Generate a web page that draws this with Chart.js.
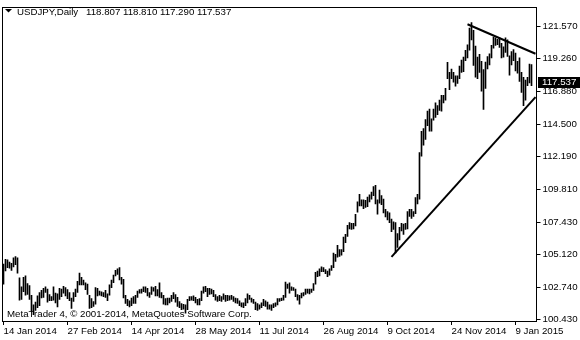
<!DOCTYPE html>
<html>
<head>
<meta charset="utf-8">
<script src="https://cdn.jsdelivr.net/npm/chart.js@4"></script>
<style>
  html, body { margin: 0; padding: 0; background: #fff; }
  #wrap { width: 580px; height: 340px; }
</style>
</head>
<body>
<div id="wrap"><canvas id="chart" width="580" height="340"></canvas></div>
<script>
// USDJPY daily bars, 14 Jan 2014 .. 21 Jan 2015 (high / low per bar)
const highs = [
  104.40,104.75,104.70,104.55,104.45,104.85,104.95,104.85,103.40,102.75,
  103.45,103.55,103.00,102.85,102.15,101.45,101.65,102.10,102.35,102.50,
  102.65,102.75,102.60,102.20,102.05,102.75,102.30,102.25,102.65,102.60,
  102.80,102.70,102.55,102.35,101.95,102.35,102.60,103.15,103.75,103.45,
  103.25,103.05,102.95,102.15,101.90,101.70,102.70,102.65,102.45,102.40,
  102.35,102.50,102.25,102.90,103.25,103.60,103.95,104.05,104.15,103.45,
  103.30,102.15,101.85,101.75,101.95,102.05,102.15,102.45,102.55,102.60,
  102.75,102.75,102.65,102.35,102.75,102.70,102.80,102.55,103.05,102.35,
  102.15,101.90,101.95,101.95,102.15,102.35,102.20,102.00,101.70,101.55,
  101.50,101.45,101.85,102.05,102.05,102.10,102.00,101.85,101.90,102.45,
  102.75,102.80,102.65,102.65,102.60,102.50,102.20,102.05,102.15,102.05,
  102.25,102.15,102.15,102.10,102.15,102.05,101.95,101.90,101.75,101.60,
  101.60,101.90,102.25,102.15,101.95,101.85,101.65,101.55,101.45,101.60,
  101.85,101.75,101.65,101.45,101.45,101.55,101.60,101.90,101.90,101.95,
  102.15,103.10,102.95,103.05,102.75,102.70,102.60,102.20,102.15,102.30,
  102.35,102.60,102.60,102.60,102.60,103.00,103.80,103.90,104.05,104.20,
  104.15,104.00,103.90,104.05,104.30,105.20,105.10,105.75,105.45,105.45,
  106.35,106.55,107.20,107.40,107.35,107.35,108.00,108.90,109.45,109.05,
  109.05,109.00,109.25,109.40,109.60,110.00,110.09,109.05,109.75,109.35,
  109.10,108.35,108.20,108.10,107.65,107.45,107.40,106.60,107.05,107.35,
  107.30,107.35,108.20,108.35,108.35,108.20,109.20,109.45,112.45,114.00,
  114.20,114.85,115.45,115.60,114.90,115.60,116.05,115.85,116.25,116.60,
  116.60,117.10,118.98,118.25,118.50,118.25,118.00,118.00,118.70,119.15,
  119.35,119.85,120.25,121.45,121.85,121.30,120.15,119.35,119.55,119.05,
  118.45,119.00,119.40,119.60,120.20,120.80,120.75,120.65,120.75,120.35,
  120.10,120.75,120.60,119.45,119.75,119.90,119.65,119.05,119.30,118.25,
  117.90,117.70,117.90,118.85,118.81
];
const lows = [
  102.95,103.90,104.15,104.10,103.95,104.20,104.35,103.75,101.80,101.85,
  102.40,102.15,102.20,101.85,101.00,100.75,101.05,101.25,101.40,101.95,
  102.00,102.35,101.65,101.75,101.75,101.80,101.60,101.30,101.85,102.05,
  102.30,102.10,101.90,101.75,101.20,101.70,102.05,102.35,102.90,102.90,
  102.90,102.55,102.20,101.20,101.25,101.35,101.50,102.10,102.15,102.10,
  102.05,102.00,101.75,102.15,102.70,103.05,103.55,103.65,103.25,102.95,
  101.95,101.55,101.40,101.30,101.40,101.55,101.55,102.00,102.30,102.30,
  102.40,102.35,102.10,102.00,102.20,102.45,102.10,102.10,102.00,101.95,
  101.50,101.45,101.45,101.60,101.70,101.90,101.65,101.35,101.25,101.10,
  101.15,100.85,101.10,101.75,101.80,101.75,101.60,101.45,101.45,101.75,
  102.30,102.40,102.05,102.20,102.25,102.05,101.80,101.70,101.75,101.70,
  101.85,101.70,101.75,101.80,101.85,101.70,101.60,101.55,101.40,101.30,
  101.25,101.40,101.60,101.85,101.65,101.55,101.10,101.05,101.15,101.25,
  101.40,101.35,101.15,101.15,101.05,101.25,101.35,101.45,101.70,101.75,
  101.80,102.00,102.65,102.30,102.50,102.50,102.05,101.80,101.50,101.95,
  102.10,102.20,102.30,102.25,102.35,102.50,102.95,103.50,103.55,103.85,
  103.85,103.70,103.50,103.60,103.95,104.15,104.60,104.90,104.95,105.05,
  105.30,105.95,106.40,106.95,106.90,106.95,107.15,108.15,108.60,108.60,
  108.40,108.50,108.55,108.90,109.10,109.35,108.75,108.00,108.80,108.70,
  108.10,107.80,107.60,107.40,106.75,106.90,105.20,105.60,106.15,106.80,
  106.55,106.90,106.95,107.85,107.70,107.85,108.05,108.75,109.10,112.20,
  113.00,113.40,114.40,114.00,114.00,114.80,115.00,115.20,115.50,115.45,
  116.05,116.25,117.80,117.00,117.80,117.55,117.25,117.45,117.80,118.25,
  118.30,119.10,119.30,119.85,120.60,118.75,117.90,117.80,118.25,116.90,
  115.57,117.10,118.50,118.80,119.30,120.00,120.20,120.25,120.05,119.30,
  119.35,119.70,119.40,118.05,118.80,119.10,118.35,118.20,117.60,116.80,
  115.85,116.25,117.30,117.50,117.29
];
const lastBar = [118.807, 118.810, 117.290, 117.537]; // O H L C of current bar

// drawn trend lines: [date, price]
const trendTop = [['2014-12-04', 121.73], ['2015-01-23', 119.60]];
const trendBottom = [['2014-10-13', 104.92], ['2015-01-23', 116.46]];

const yTicks = [100.43, 102.74, 105.12, 107.43, 109.81, 112.19, 114.50, 116.88, 119.26, 121.57];
const xTickDates = ['2014-01-14','2014-02-27','2014-04-14','2014-05-28','2014-07-11','2014-08-26','2014-10-09','2014-11-24','2015-01-09'];
const xTickText = ['14 Jan 2014','27 Feb 2014','14 Apr 2014','28 May 2014','11 Jul 2014','26 Aug 2014','9 Oct 2014','24 Nov 2014','9 Jan 2015'];
const holidays = ['2014-12-25', '2015-01-01'];

// trading days (weekdays without holidays), plus 2 empty slots on the right
function tradingDays(start, count) {
  const out = [];
  const d = new Date(start + 'T00:00:00Z');
  while (out.length < count) {
    const wd = d.getUTCDay();
    const s = d.toISOString().slice(0, 10);
    if (wd !== 0 && wd !== 6 && !holidays.includes(s)) out.push(s);
    d.setUTCDate(d.getUTCDate() + 1);
  }
  return out;
}
const days = tradingDays('2014-01-14', highs.length + 2);
const tickIdx = xTickDates.map(d => days.indexOf(d));

const FONT = '"Liberation Sans", Arial, sans-serif';
const FSIZE = 9.7;
Chart.defaults.font.family = FONT;
Chart.defaults.font.size = FSIZE;
Chart.defaults.color = '#000';

const mt4Decor = {
  id: 'mt4Decor',
  beforeDatasetsDraw(chart) {
    const ctx = chart.ctx;
    ctx.save();
    ctx.font = FSIZE + 'px ' + FONT;
    ctx.fillStyle = '#000';
    ctx.fillText('MetaTrader 4, \u00a9 2001-2014, MetaQuotes Software Corp.', 7, 317);
    ctx.restore();
  },
  afterDraw(chart) {
    const {ctx, chartArea: a} = chart;
    ctx.save();
    // frame
    ctx.strokeStyle = '#000';
    ctx.lineWidth = 1;
    const l = Math.floor(a.left), t = Math.floor(a.top);
    ctx.strokeRect(l + 0.5, t + 0.5, Math.floor(a.right) - l, Math.floor(a.bottom) - t);
    // header
    ctx.fillStyle = '#000';
    ctx.beginPath();
    ctx.moveTo(5, 9); ctx.lineTo(12, 9); ctx.lineTo(8.5, 12.5); ctx.closePath();
    ctx.fill();
    ctx.font = FSIZE + 'px ' + FONT;
    ctx.fillText('USDJPY,Daily', 17, 15);
    ctx.fillText(lastBar.map(v => v.toFixed(3)).join(' '), 86, 15);
    // current price label
    const yc = Math.round(chart.scales.y.getPixelForValue(lastBar[3]));
    ctx.fillRect(538, yc - 5, 42, 11);
    ctx.fillStyle = '#fff';
    ctx.textBaseline = 'middle';
    ctx.fillText(lastBar[3].toFixed(3), 542, yc + 0.5);
    ctx.restore();
  }
};

const lineSet = (pts) => ({
  type: 'line',
  data: pts.map(p => ({x: p[0], y: p[1]})),
  borderColor: '#000',
  borderWidth: 2,
  pointRadius: 0,
  fill: false,
  tension: 0
});

new Chart(document.getElementById('chart'), {
  type: 'bar',
  data: {
    labels: days,
    datasets: [
      {
        data: highs.map((h, i) => [lows[i], h]),
        backgroundColor: '#000',
        borderWidth: 0,
        barThickness: 1
      },
      lineSet(trendTop),
      lineSet(trendBottom)
    ]
  },
  options: {
    responsive: false,
    animation: false,
    events: [],
    layout: { padding: { left: 2.5, top: 2, right: 0, bottom: 0 } },
    plugins: { legend: { display: false }, tooltip: { enabled: false } },
    scales: {
      x: {
        offset: true,
        grid: { drawOnChartArea: false, drawTicks: true, tickLength: 4, offset: false, color: '#000' },
        border: { display: false },
        ticks: {
          autoSkip: false, maxRotation: 0, align: 'start', padding: 1,
          callback: (v) => xTickText[tickIdx.indexOf(v)]
        },
        afterBuildTicks: (s) => { s.ticks = s.ticks.filter(t => tickIdx.includes(t.value)); },
        afterFit: (s) => { s.height = 19; }
      },
      y: {
        position: 'right',
        min: 100.288,
        max: 122.918,
        grid: { drawOnChartArea: false, drawTicks: true, tickLength: 4, color: '#000' },
        border: { display: false },
        ticks: { padding: 2, callback: (v) => Number(v).toFixed(3) },
        afterBuildTicks: (s) => { s.ticks = yTicks.map(v => ({value: v})); },
        afterFit: (s) => { s.width = 43.5; }
      }
    }
  },
  plugins: [mt4Decor]
});
</script>
</body>
</html>
